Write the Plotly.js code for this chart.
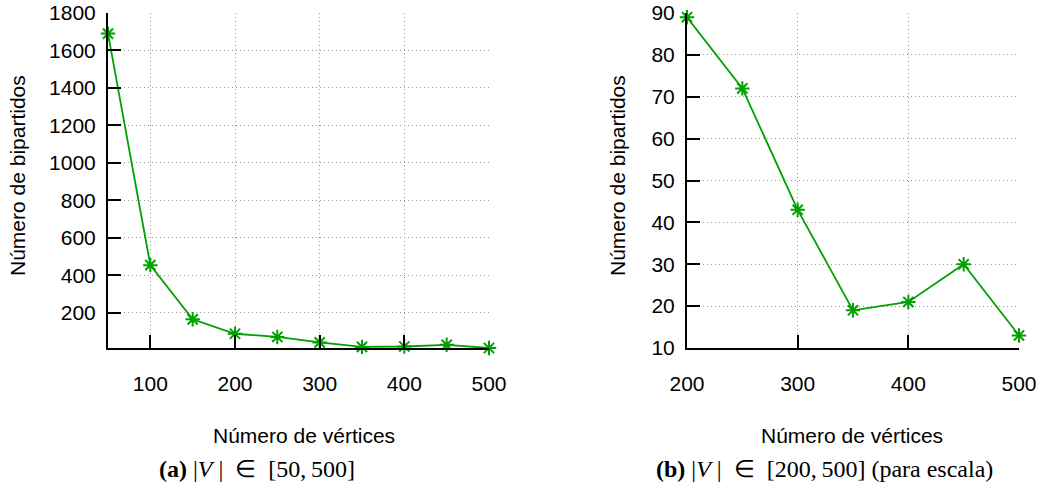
<!DOCTYPE html>
<html>
<head>
<meta charset="utf-8">
<script src="https://cdn.plot.ly/plotly-3.0.1.min.js"></script>
<style>html,body{margin:0;padding:0;background:#fff;}#chart{width:1046px;height:491px;}</style>
</head>
<body>
<div id="chart"></div>
<script>
// Panel (a): |V| in [50,500]
const verticesA = [50, 100, 150, 200, 250, 300, 350, 400, 450, 500];
const bipartidosA = [1690, 455, 166, 89, 72, 43, 19, 21, 30, 13];
// Panel (b): |V| in [200,500]
const verticesB = [200, 250, 300, 350, 400, 450, 500];
const bipartidosB = [89, 72, 43, 19, 21, 30, 13];

const ticksAx = [100, 200, 300, 400, 500];
const ticksAy = [200, 400, 600, 800, 1000, 1200, 1400, 1600, 1800];
const ticksBx = [200, 300, 400, 500];
const ticksBy = [10, 20, 30, 40, 50, 60, 70, 80, 90];

const xTitle = 'Número de vértices';
const yTitle = 'Número de bipartidos';
const captionA = '<b>(a)</b> |<i>V</i> |  ∈  [50,\u2009500]';
const captionB = '<b>(b)</b> |<i>V</i> |  ∈  [200,\u2009500] (para escala)';

const green = '#00a000';
const sans = 'Liberation Sans, Arial, sans-serif';
const serif = 'Liberation Serif, Times New Roman, serif';

function trace(x, y, xa, ya) {
  return {
    x: x, y: y, xaxis: xa, yaxis: ya, type: 'scatter', mode: 'lines+markers',
    line: {color: green, width: 1.8},
    marker: {symbol: 'asterisk-open', size: 12, color: green, line: {color: green, width: 2}},
    hoverinfo: 'x+y', showlegend: false, cliponaxis: false
  };
}

function axisCommon(extra) {
  return Object.assign({
    showline: true, linecolor: '#000', linewidth: 2, mirror: false,
    ticks: 'inside', ticklen: 13, tickwidth: 2, tickcolor: '#000',
    showgrid: true, gridcolor: '#9a9a9a', griddash: '1px,3px', gridwidth: 1,
    zeroline: false, tickmode: 'array',
    tickfont: {family: sans, size: 21, color: '#000'}
  }, extra);
}

const H = 491, W = 1046;
const yDom = [1 - 348 / H, 1 - 13 / H];

const layout = {
  width: W, height: H,
  margin: {l: 0, r: 0, t: 0, b: 0},
  paper_bgcolor: '#fff', plot_bgcolor: '#fff',
  showlegend: false,
  xaxis: axisCommon({domain: [108 / W, 489 / W], range: [50, 500], tickvals: ticksAx, anchor: 'y', ticklabelstandoff: 16}),
  yaxis: axisCommon({domain: yDom, range: [13, 1800], tickvals: ticksAy, anchor: 'x', ticklabelstandoff: 6}),
  xaxis2: axisCommon({domain: [687 / W, 1019 / W], range: [200, 500], tickvals: ticksBx, anchor: 'y2', ticklabelstandoff: 16}),
  yaxis2: axisCommon({domain: yDom, range: [10, 90], tickvals: ticksBy, anchor: 'x2', ticklabelstandoff: 6}),
  annotations: [
    {text: yTitle, xref: 'paper', yref: 'paper', x: 18 / W, y: 1 - 176 / H, textangle: -90, showarrow: false,
     xanchor: 'center', yanchor: 'middle', font: {family: sans, size: 21, color: '#000'}},
    {text: yTitle, xref: 'paper', yref: 'paper', x: 618 / W, y: 1 - 176 / H, textangle: -90, showarrow: false,
     xanchor: 'center', yanchor: 'middle', font: {family: sans, size: 21, color: '#000'}},
    {text: xTitle, xref: 'paper', yref: 'paper', x: 304 / W, y: 1 - 435 / H, showarrow: false,
     xanchor: 'center', yanchor: 'middle', font: {family: sans, size: 21, color: '#000'}},
    {text: xTitle, xref: 'paper', yref: 'paper', x: 852 / W, y: 1 - 435 / H, showarrow: false,
     xanchor: 'center', yanchor: 'middle', font: {family: sans, size: 21, color: '#000'}},
    {text: captionA, xref: 'paper', yref: 'paper', x: 257 / W, y: 1 - 469 / H, showarrow: false,
     xanchor: 'center', yanchor: 'middle', font: {family: serif, size: 24, color: '#000'}},
    {text: captionB, xref: 'paper', yref: 'paper', x: 824 / W, y: 1 - 469 / H, showarrow: false,
     xanchor: 'center', yanchor: 'middle', font: {family: serif, size: 24, color: '#000'}}
  ]
};

Plotly.newPlot('chart', [trace(verticesA, bipartidosA, 'x', 'y'), trace(verticesB, bipartidosB, 'x2', 'y2')], layout, {displayModeBar: false, staticPlot: true});
</script>
</body>
</html>
